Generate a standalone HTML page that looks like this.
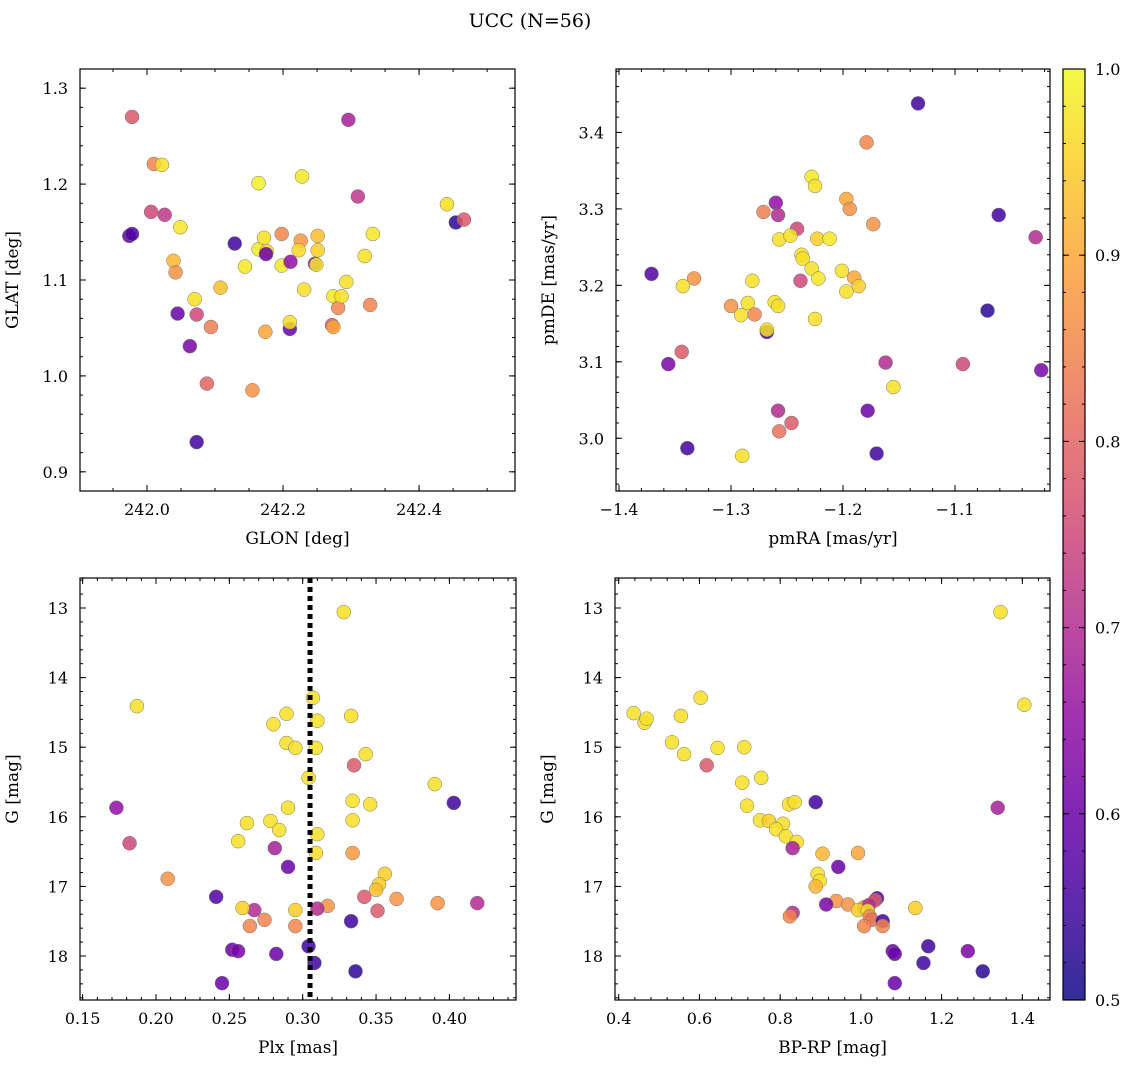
<!DOCTYPE html>
<html><head><meta charset="utf-8"><style>
body{margin:0;background:#fff;}
svg{display:block;font-family:"DejaVu Serif","Liberation Serif",serif;}
</style></head><body>
<svg id="fig" width="1136" height="1068" viewBox="0 0 1136 1068" xmlns="http://www.w3.org/2000/svg">
<text x="530" y="27" font-size="19" text-anchor="middle">UCC (N=56)</text>
</svg>
<script>
// Panel 1: GLON vs GLAT
const glon=[241.978,242.010,242.022,242.006,242.026,242.049,241.974,241.978,242.039,242.042,242.045,242.070,242.073,242.094,242.063,242.088,242.073,242.108,242.129,242.144,242.155,242.164,242.164,242.172,242.176,242.175,242.174,242.198,242.198,242.211,242.210,242.210,242.226,242.223,242.228,242.231,242.247,242.251,242.251,242.249,242.272,242.274,242.274,242.281,242.286,242.293,242.296,242.310,242.320,242.332,242.328,242.441,242.454,242.466];
const glat=[1.270,1.221,1.220,1.171,1.168,1.155,1.146,1.148,1.120,1.108,1.065,1.080,1.064,1.051,1.031,0.992,0.931,1.092,1.138,1.114,0.985,1.201,1.132,1.144,1.130,1.127,1.046,1.148,1.115,1.119,1.049,1.056,1.141,1.131,1.208,1.090,1.117,1.146,1.131,1.116,1.053,1.083,1.051,1.071,1.083,1.098,1.267,1.187,1.125,1.148,1.074,1.179,1.160,1.163];
const prob1=[0.78,0.85,0.97,0.75,0.72,0.98,0.58,0.57,0.92,0.87,0.6,0.97,0.75,0.84,0.62,0.8,0.55,0.93,0.55,0.98,0.87,0.99,0.98,0.97,0.96,0.6,0.9,0.85,0.98,0.65,0.6,0.97,0.88,0.96,0.98,0.97,0.65,0.93,0.95,0.98,0.78,0.98,0.9,0.85,0.97,0.97,0.68,0.72,0.97,0.98,0.85,0.97,0.53,0.78];
// Panel 2: pmRA vs pmDE
const pmra=[-1.133,-1.179,-1.228,-1.225,-1.197,-1.194,-1.260,-1.271,-1.258,-1.061,-1.028,-1.241,-1.257,-1.247,-1.237,-1.236,-1.223,-1.212,-1.173,-1.228,-1.222,-1.201,-1.190,-1.186,-1.197,-1.371,-1.333,-1.343,-1.281,-1.238,-1.261,-1.258,-1.285,-1.300,-1.291,-1.279,-1.225,-1.268,-1.268,-1.071,-1.344,-1.356,-1.162,-1.093,-1.023,-1.155,-1.258,-1.178,-1.246,-1.257,-1.339,-1.290,-1.170];
const pmde=[3.438,3.387,3.342,3.330,3.313,3.300,3.308,3.296,3.292,3.292,3.263,3.274,3.260,3.265,3.240,3.235,3.261,3.261,3.280,3.222,3.209,3.219,3.210,3.199,3.192,3.215,3.209,3.199,3.206,3.206,3.178,3.173,3.177,3.173,3.161,3.162,3.156,3.139,3.142,3.167,3.113,3.097,3.099,3.097,3.089,3.067,3.036,3.036,3.020,3.009,2.987,2.977,2.980];
const prob2=[0.55,0.85,0.98,0.97,0.9,0.87,0.65,0.84,0.7,0.55,0.7,0.75,0.97,0.97,0.97,0.97,0.95,0.98,0.87,0.97,0.98,0.97,0.9,0.95,0.97,0.57,0.87,0.97,0.97,0.75,0.97,0.97,0.97,0.87,0.97,0.85,0.97,0.55,0.97,0.53,0.78,0.62,0.7,0.75,0.62,0.97,0.7,0.6,0.78,0.82,0.55,0.97,0.55];
// Panel 3: Plx vs G
const plx=[0.328,0.187,0.307,0.310,0.289,0.280,0.333,0.289,0.295,0.309,0.343,0.304,0.390,0.335,0.173,0.403,0.334,0.346,0.290,0.310,0.334,0.262,0.278,0.284,0.256,0.182,0.281,0.309,0.334,0.290,0.356,0.352,0.350,0.208,0.241,0.342,0.364,0.392,0.419,0.317,0.310,0.267,0.259,0.295,0.351,0.274,0.333,0.264,0.295,0.304,0.252,0.256,0.282,0.308,0.336,0.245];
const gmag3=[13.06,14.41,14.29,14.62,14.52,14.67,14.55,14.94,15.01,15.01,15.10,15.44,15.53,15.26,15.87,15.80,15.77,15.82,15.87,16.25,16.05,16.09,16.06,16.19,16.35,16.38,16.45,16.52,16.52,16.72,16.82,16.97,17.05,16.89,17.15,17.15,17.18,17.24,17.24,17.28,17.32,17.34,17.31,17.34,17.35,17.48,17.50,17.57,17.57,17.86,17.91,17.93,17.97,18.10,18.22,18.39];
const prob3=[0.97,0.97,0.97,0.97,0.97,0.97,0.97,0.97,0.97,0.97,0.97,0.97,0.97,0.78,0.65,0.55,0.97,0.97,0.97,0.97,0.97,0.97,0.97,0.97,0.97,0.75,0.68,0.97,0.88,0.6,0.95,0.95,0.93,0.87,0.57,0.78,0.87,0.87,0.7,0.87,0.7,0.7,0.95,0.95,0.78,0.85,0.55,0.85,0.85,0.55,0.6,0.62,0.6,0.55,0.53,0.6];
const plxLine=[0.305];
// Panel 4: BP-RP vs G
const bprp=[1.346,1.405,0.437,0.464,0.469,0.532,0.603,0.554,0.562,0.645,0.711,0.618,0.706,0.753,0.718,0.822,0.836,0.888,1.339,0.750,0.772,0.807,0.790,0.814,0.841,0.831,0.905,0.993,0.944,0.893,0.898,0.888,1.040,1.035,0.939,0.914,0.968,1.008,1.020,1.135,0.831,0.993,1.017,1.022,0.824,1.027,1.054,1.008,1.054,1.167,1.079,1.084,1.265,1.084,1.155,1.302];
const gmag4=[13.06,14.39,14.51,14.65,14.59,14.93,14.29,14.55,15.10,15.01,15.00,15.26,15.51,15.44,15.84,15.82,15.79,15.79,15.87,16.05,16.06,16.10,16.18,16.28,16.36,16.45,16.53,16.52,16.72,16.82,16.92,17.00,17.17,17.20,17.21,17.26,17.26,17.30,17.27,17.31,17.38,17.34,17.35,17.43,17.43,17.48,17.50,17.57,17.57,17.86,17.93,17.97,17.93,18.39,18.10,18.22];
const prob4=[0.97,0.97,0.97,0.97,0.97,0.97,0.97,0.97,0.97,0.97,0.97,0.78,0.97,0.97,0.97,0.97,0.97,0.55,0.68,0.97,0.95,0.97,0.97,0.97,0.97,0.68,0.92,0.9,0.6,0.97,0.97,0.92,0.57,0.78,0.87,0.62,0.87,0.87,0.7,0.95,0.7,0.95,0.97,0.85,0.85,0.82,0.55,0.85,0.85,0.55,0.6,0.6,0.62,0.6,0.55,0.53];
const cbTicks=[0.5,0.6,0.7,0.8,0.9,1.0];

const NS="http://www.w3.org/2000/svg";
const fig=document.getElementById('fig');
function mk(tag,attrs,parent){const e=document.createElementNS(NS,tag);for(const k in attrs)e.setAttribute(k,attrs[k]);(parent||fig).appendChild(e);return e;}
const stops=[[0x0d,0x08,0x87],[0x41,0x04,0x9d],[0x6a,0x00,0xa8],[0x8f,0x0d,0xa4],[0xb1,0x2a,0x90],[0xcc,0x47,0x78],[0xe1,0x64,0x62],[0xf2,0x84,0x4b],[0xfc,0xa6,0x36],[0xfc,0xce,0x25],[0xf0,0xf9,0x21]];
function plasma(p){let t=Math.max(0,Math.min(1,(p-0.5)/0.5))*10;let i=Math.min(9,Math.floor(t));let f=t-i;const a=stops[i],b=stops[i+1];return 'rgb('+a.map((v,k)=>Math.round(v+(b[k]-v)*f)).join(',')+')';}
function fmt(v,d){let s=v.toFixed(d);return s.replace('-','\u2212');}

function panel(name,box,xr,yr,xt,xd,xminor,yt,yd,yminor,xlab,ylab,xs,ys,ps){
  const [L,T,R,B]=box;
  const g=mk('g',{});
  
  
  const X=v=>L+(v-xr[0])/(xr[1]-xr[0])*(R-L);
  const Y=v=>T+(yr[1]-v)/(yr[1]-yr[0])*(B-T);
  for(let i=0;i<xs.length;i++){
    const c=mk('circle',{cx:X(xs[i]),cy:Y(ys[i]),r:7,fill:plasma(ps[i]),'fill-opacity':0.85,stroke:'#777','stroke-width':0.5},g);
    
    
  }
  const fr=mk('rect',{x:L,y:T,width:R-L,height:B-T,fill:'none',stroke:'#000','stroke-width':1.2},g);
  
  
  const xmin=xr[0],xmax=xr[1];
  for(let v=Math.ceil(xmin/xminor)*xminor;v<=xmax+1e-9;v+=xminor){const px=X(v);
    mk('line',{x1:px,y1:B,x2:px,y2:B-3,stroke:'#000'},g);mk('line',{x1:px,y1:T,x2:px,y2:T+3,stroke:'#000'},g);}
  xt.forEach(v=>{const px=X(v);mk('line',{x1:px,y1:B,x2:px,y2:B-6,stroke:'#000'},g);mk('line',{x1:px,y1:T,x2:px,y2:T+6,stroke:'#000'},g);
    const t=mk('text',{x:px,y:B+24,'font-size':16,'text-anchor':'middle'},g);t.textContent=fmt(v,xd);
    
    });
  for(let v=Math.ceil(Math.min(...yr)/yminor)*yminor;v<=Math.max(...yr)+1e-9;v+=yminor){const py=Y(v);
    mk('line',{x1:L,y1:py,x2:L+3,y2:py,stroke:'#000'},g);mk('line',{x1:R,y1:py,x2:R-3,y2:py,stroke:'#000'},g);}
  yt.forEach(v=>{const py=Y(v);mk('line',{x1:L,y1:py,x2:L+6,y2:py,stroke:'#000'},g);mk('line',{x1:R,y1:py,x2:R-6,y2:py,stroke:'#000'},g);
    const t=mk('text',{x:L-12,y:py+6,'font-size':16,'text-anchor':'end'},g);t.textContent=fmt(v,yd);
    
    });
  const xl=mk('text',{x:(L+R)/2,y:B+53,'font-size':17,'text-anchor':'middle'},g);xl.textContent=xlab;
  
  
  const yx=L-62,yy=(T+B)/2;
  const yl=mk('text',{x:yx,y:yy,'font-size':17,'text-anchor':'middle',transform:'rotate(-90 '+yx+' '+yy+')'},g);yl.textContent=ylab;
  
  
  return {X,Y,g};
}
panel('glon-glat-panel',[80,69,515,491],[241.9015,242.541],[0.880,1.320],[242.0,242.2,242.4],1,0.05,[0.9,1.0,1.1,1.2,1.3],1,0.02,'GLON [deg]','GLAT [deg]',glon,glat,prob1);
panel('pm-panel',[616,69,1050,491],[-1.4027,-1.0152],[2.931,3.483],[-1.4,-1.3,-1.2,-1.1],1,0.02,[3.0,3.1,3.2,3.3,3.4],1,0.02,'pmRA [mas/yr]','pmDE [mas/yr]',pmra,pmde,prob2);
function panelG(name,box,xr,xt,xd,xminor,xlab,xs,gs,ps){
  const ng=gs.map(v=>-v);
  const p=panel(name,box,xr,[-18.632,-12.569],xt,xd,xminor,[],0,0.2,xlab,'G [mag]',xs,ng,ps);
  const [L,T,R,B]=box;
  [13,14,15,16,17,18].forEach(v=>{const py=p.Y(-v);mk('line',{x1:L,y1:py,x2:L+6,y2:py,stroke:'#000'},p.g);mk('line',{x1:R,y1:py,x2:R-6,y2:py,stroke:'#000'},p.g);
    const t=mk('text',{x:L-12,y:py+6,'font-size':16,'text-anchor':'end'},p.g);t.textContent=String(v);
    
    });
  return p;
}
const p3=panelG('plx-g-panel',[80,578,516,1000],[0.1482,0.4454],[0.15,0.20,0.25,0.30,0.35,0.40],2,0.01,'Plx [mas]',plx,gmag3,prob3);
plxLine.forEach(v=>{const l=mk('line',{x1:p3.X(v),y1:578,x2:p3.X(v),y2:1000,stroke:'#000','stroke-width':5,'stroke-dasharray':'5,4'},p3.g);
  
  });
panelG('cmd-panel',[615,578,1050,1000],[0.3908,1.4686],[0.4,0.6,0.8,1.0,1.2,1.4],1,0.04,'BP-RP [mag]',bprp,gmag4,prob4);

const cb=mk('g',{});


const defs=mk('defs',{},cb);
const grad=mk('linearGradient',{id:'pl',x1:0,y1:1,x2:0,y2:0},defs);
for(let i=0;i<=20;i++){mk('stop',{offset:i/20,'stop-color':plasma(0.5+i/40),'stop-opacity':0.85},grad);}
mk('rect',{x:1063,y:69,width:22,height:931,fill:'url(#pl)',stroke:'#000','stroke-width':1.2},cb);
const CY=v=>1000-(v-0.5)/0.5*931;
for(let v=0.5;v<=1.0001;v+=0.02){mk('line',{x1:1085,y1:CY(v),x2:1082,y2:CY(v),stroke:'#000'},cb);mk('line',{x1:1063,y1:CY(v),x2:1066,y2:CY(v),stroke:'#000'},cb);}
cbTicks.forEach(v=>{mk('line',{x1:1085,y1:CY(v),x2:1079,y2:CY(v),stroke:'#000'},cb);mk('line',{x1:1063,y1:CY(v),x2:1069,y2:CY(v),stroke:'#000'},cb);
  const t=mk('text',{x:1095,y:CY(v)+6,'font-size':16},cb);t.textContent=v.toFixed(1);
  
  });
</script>
</body></html>
